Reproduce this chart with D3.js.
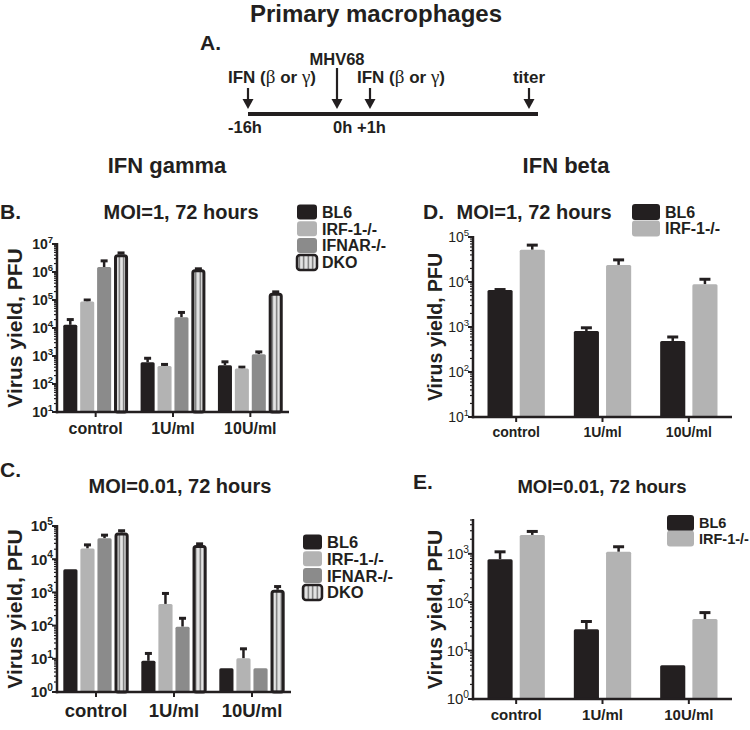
<!DOCTYPE html>
<html><head><meta charset="utf-8">
<script src="https://cdn.jsdelivr.net/npm/d3@7"></script>
<style>body{margin:0;background:#fff}svg{font-family:"Liberation Sans",Arial,sans-serif;font-weight:bold;fill:#231f20}</style>
</head><body>
<svg id="c" width="750" height="730"></svg>
<script>
const categories = ["control", "1U/ml", "10U/ml"];
const seriesGamma = ["BL6", "IRF-1-/-", "IFNAR-/-", "DKO"];
const seriesBeta = ["BL6", "IRF-1-/-"];
// Panel B: IFN gamma, MOI=1
const bMeans = { "BL6": [13000, 600, 470], "IRF-1-/-": [89000, 440, 360], "IFNAR-/-": [1500000, 24000, 1150], "DKO": [4300000, 1250000, 180000] };
const bErr   = { "BL6": [20000, 830, 620], "IRF-1-/-": [100000, 500, 400], "IFNAR-/-": [2500000, 36000, 1400], "DKO": [4800000, 1300000, 195000] };
// Panel C: IFN gamma, MOI=0.01
const cMeans = { "BL6": [5000, 8.7, 5.2], "IRF-1-/-": [21000, 450, 10.3], "IFNAR-/-": [43000, 93, 5.2], "DKO": [64000, 27000, 1200] };
const cErr   = { "BL6": [5000, 14.5, 5.2], "IRF-1-/-": [27000, 930, 20], "IFNAR-/-": [53000, 166, 5.2], "DKO": [72000, 29000, 1500] };
// Panel D: IFN beta, MOI=1
const dMeans = { "BL6": [6600, 810, 490], "IRF-1-/-": [52000, 24000, 8900] };
const dErr   = { "BL6": [6800, 960, 600], "IRF-1-/-": [66000, 31000, 11500] };
// Panel E: IFN beta, MOI=0.01
const eMeans = { "BL6": [776, 27.5, 5.0], "IRF-1-/-": [2460, 1100, 45] };
const eErr   = { "BL6": [1100, 40, 5.0], "IRF-1-/-": [2900, 1400, 61] };
const bTicks = [1e1, 1e2, 1e3, 1e4, 1e5, 1e6, 1e7];
const cTicks = [1e0, 1e1, 1e2, 1e3, 1e4, 1e5];
const dTicks = [1e1, 1e2, 1e3, 1e4, 1e5];
const eTicks = [1e0, 1e1, 1e2, 1e3];
const timelineEvents = [
  { t: -16, label: "IFN", time: "-16h" },
  { t: 0, label: "MHV68", time: "0h" },
  { t: 1, label: "IFN", time: "+1h" },
  { t: 72, label: "titer", time: "" }
];

const colors = { "BL6": "#231f20", "IRF-1-/-": "#b3b3b3", "IFNAR-/-": "#8b8b8b", "DKO": "#e4e4e4" };
const svg = d3.select("#c");
const defs = svg.append("defs");
const pat = defs.append("pattern").attr("id", "stripes").attr("patternUnits", "userSpaceOnUse")
  .attr("width", 4.5).attr("height", 4);
pat.append("rect").attr("width", 4.5).attr("height", 4).attr("fill", "#e4e4e4");
pat.append("rect").attr("x", 1.6).attr("width", 1.3).attr("height", 4).attr("fill", "#6a6a6a");

function text(x, y, str, size, anchor) {
  return svg.append("text").attr("x", x).attr("y", y).attr("font-size", size)
    .attr("text-anchor", anchor || "start").text(str);
}

// Title
text(376, 22, "Primary macrophages", 24, "middle");
text(200, 50, "A.", 21);

// Timeline
const tx = d3.scaleLinear().domain([-16, 72]).range([248, 529]);
const arrowX = { "-16": 248, "0": 337, "1": 370, "72": tx(72) };
const labelStart = { "-16": 228, "1": 357 };
const timeStart = { "-16": 228, "0": 333, "1": 357 };
svg.append("line").attr("x1", 248).attr("x2", 538).attr("y1", 114).attr("y2", 114)
  .attr("stroke", "#231f20").attr("stroke-width", 4);
timelineEvents.forEach(e => {
  const x = arrowX[e.t];
  const y0 = e.label === "MHV68" ? 68 : 88;
  svg.append("line").attr("x1", x).attr("x2", x).attr("y1", y0).attr("y2", 102)
    .attr("stroke", "#231f20").attr("stroke-width", 2.2);
  svg.append("path").attr("d", `M${x-5.5},${99} L${x+5.5},${99} L${x},${109} Z`).attr("fill", "#231f20");
  if (e.label === "IFN") {
    const t = svg.append("text").attr("x", labelStart[e.t]).attr("y", 83).attr("font-size", 17);
    t.append("tspan").text("IFN (");
    t.append("tspan").attr("font-family", "'Liberation Serif',serif").attr("font-weight", "normal").attr("font-size", 19).text("β");
    t.append("tspan").text(" or ");
    t.append("tspan").attr("font-family", "'Liberation Serif',serif").attr("font-weight", "normal").attr("font-size", 19).text("γ");
    t.append("tspan").text(")");
  } else if (e.label === "MHV68") {
    text(x, 65, "MHV68", 16.5, "middle");
  } else {
    text(x, 83, e.label, 17, "middle");
  }
  if (e.time) text(timeStart[e.t], 133, e.time, 16.5);
});

text(167, 173, "IFN gamma", 22, "middle");
text(566, 173, "IFN beta", 22, "middle");

function panel(o) {
  const y = d3.scaleLog().domain(o.domain).range([o.y1, o.y0]);
  const x0 = d3.scaleBand().domain(categories).range([o.x0, o.x1]);
  const x1 = d3.scaleBand().domain(o.series).range([0, x0.bandwidth()])
    .paddingInner(o.pin).paddingOuter(o.pout);
  const g = svg.append("g");
  // bars
  o.series.forEach(s => {
    categories.forEach((c, i) => {
      const bx = x0(c) + x1(s), bw = x1.bandwidth();
      const v = o.means[s][i], ev = o.err[s][i];
      if (ev > v) {
        g.append("line").attr("x1", bx + bw / 2).attr("x2", bx + bw / 2)
          .attr("y1", y(v)).attr("y2", y(ev)).attr("stroke", "#231f20").attr("stroke-width", 2.5);
        g.append("line").attr("x1", bx + bw / 2 - o.cap / 2).attr("x2", bx + bw / 2 + o.cap / 2)
          .attr("y1", y(ev)).attr("y2", y(ev)).attr("stroke", "#231f20").attr("stroke-width", 3);
      }
      if (s === "DKO") {
        g.append("rect").attr("x", bx + 1.5).attr("y", y(v) + 1.5).attr("width", bw - 3)
          .attr("height", o.y1 - y(v) - 1.5).attr("rx", 2)
          .attr("fill", "url(#stripes)").attr("stroke", "#231f20").attr("stroke-width", 3);
      } else {
        g.append("rect").attr("x", bx).attr("y", y(v)).attr("width", bw)
          .attr("height", o.y1 - y(v)).attr("rx", 1.5).attr("fill", colors[s]);
      }
    });
  });
  // y axis
  const minor = [];
  for (let d = Math.log10(o.domain[0]); d < Math.log10(o.domain[1]); d++) {
    for (let k = 2; k <= 9; k++) { const v = k * Math.pow(10, d); if (v <= o.domain[1]) minor.push(v); }
  }
  minor.forEach(v => g.append("line").attr("x1", o.x0).attr("x2", o.x0 - 3).attr("y1", y(v)).attr("y2", y(v))
    .attr("stroke", "#231f20").attr("stroke-width", 1.2));
  o.ticks.forEach(v => {
    g.append("line").attr("x1", o.x0).attr("x2", o.x0 - 5).attr("y1", y(v)).attr("y2", y(v))
      .attr("stroke", "#231f20").attr("stroke-width", 2);
    const t = g.append("text").attr("x", o.x0 - 4).attr("y", y(v) + o.tf * 0.36).attr("font-size", o.tf)
      .attr("text-anchor", "end").attr("font-weight", o.tw);
    t.append("tspan").text("10");
    t.append("tspan").attr("font-size", o.tf * 0.68).attr("dy", -o.tf * 0.42).text(Math.round(Math.log10(v)));
  });
  g.append("line").attr("x1", o.x0).attr("x2", o.x0).attr("y1", o.y0 - 1).attr("y2", o.y1 + 1.25)
    .attr("stroke", "#231f20").attr("stroke-width", 2.5);
  // x axis
  g.append("line").attr("x1", o.x0 - 1.25).attr("x2", o.x1).attr("y1", o.y1).attr("y2", o.y1)
    .attr("stroke", "#231f20").attr("stroke-width", 2.5);
  categories.forEach(c => {
    const cx = x0(c) + x0.bandwidth() / 2;
    g.append("line").attr("x1", cx).attr("x2", cx).attr("y1", o.y1).attr("y2", o.y1 + 5)
      .attr("stroke", "#231f20").attr("stroke-width", 2);
    g.append("text").attr("x", cx).attr("y", o.y1 + o.xf + 6).attr("font-size", o.xf)
      .attr("text-anchor", "middle").text(c);
  });
  // y label
  g.append("text").attr("transform", `translate(${o.ylx},${(o.y0 + o.y1) / 2}) rotate(-90)`)
    .attr("font-size", o.ylf).attr("text-anchor", "middle").text("Virus yield, PFU");
  // legend
  o.series.forEach((s, i) => {
    const ly = o.ly + i * o.lstep;
    g.append("rect").attr("x", o.lx).attr("y", ly - o.lh / 2).attr("width", o.lw).attr("height", o.lh)
      .attr("rx", 3).attr("fill", s === "DKO" ? "url(#stripes)" : colors[s])
      .attr("stroke", s === "DKO" ? "#231f20" : "none").attr("stroke-width", 2.5);
    g.append("text").attr("x", o.lx + o.lw + 5).attr("y", ly + o.lf * 0.36).attr("font-size", o.lf).text(s);
  });
  text(o.lettX, o.lettY, o.letter, 21);
  text(o.tX, o.tY, o.title, o.tFont, "middle");
}

panel({ series: seriesGamma, means: bMeans, err: bErr, ticks: bTicks, domain: [1e1, 1e7],
  x0: 57, x1: 289, y0: 244, y1: 412, pin: 0.17, pout: 0.37, cap: 7, tf: 14, tw: "bold", xf: 16,
  ylx: 22, ylf: 21, lx: 297, lw: 20, lh: 15, ly: 212, lstep: 16.8, lf: 16,
  letter: "B.", lettX: 0, lettY: 219, title: "MOI=1, 72 hours", tX: 181, tY: 219, tFont: 20 });
panel({ series: seriesGamma, means: cMeans, err: cErr, ticks: cTicks, domain: [1e0, 1e5],
  x0: 57, x1: 291, y0: 526, y1: 692, pin: 0.17, pout: 0.37, cap: 7, tf: 15, tw: "bold", xf: 18.5,
  ylx: 22, ylf: 21, lx: 303, lw: 19, lh: 15, ly: 542, lstep: 16.8, lf: 16.5,
  letter: "C.", lettX: 0, lettY: 477, title: "MOI=0.01, 72 hours", tX: 180, tY: 493, tFont: 20 });
panel({ series: seriesBeta, means: dMeans, err: dErr, ticks: dTicks, domain: [1e1, 1e5],
  x0: 473, x1: 732, y0: 237, y1: 417, pin: 0.22, pout: 0.45, cap: 11, tf: 14, tw: "normal", xf: 14,
  ylx: 442, ylf: 19.5, lx: 632, lw: 28, lh: 16, ly: 212, lstep: 16.5, lf: 16,
  letter: "D.", lettX: 423, lettY: 219, title: "MOI=1, 72 hours", tX: 534, tY: 219, tFont: 20 });
panel({ series: seriesBeta, means: eMeans, err: eErr, ticks: eTicks, domain: [1e0, 5000],
  x0: 473, x1: 732, y0: 520, y1: 699, pin: 0.22, pout: 0.45, cap: 11, tf: 15, tw: "normal", xf: 15,
  ylx: 442, ylf: 21, lx: 667, lw: 27, lh: 16, ly: 523, lstep: 15.5, lf: 14.5,
  letter: "E.", lettX: 413, lettY: 489, title: "MOI=0.01, 72 hours", tX: 602, tY: 493, tFont: 18.5 });
</script>
</body></html>
